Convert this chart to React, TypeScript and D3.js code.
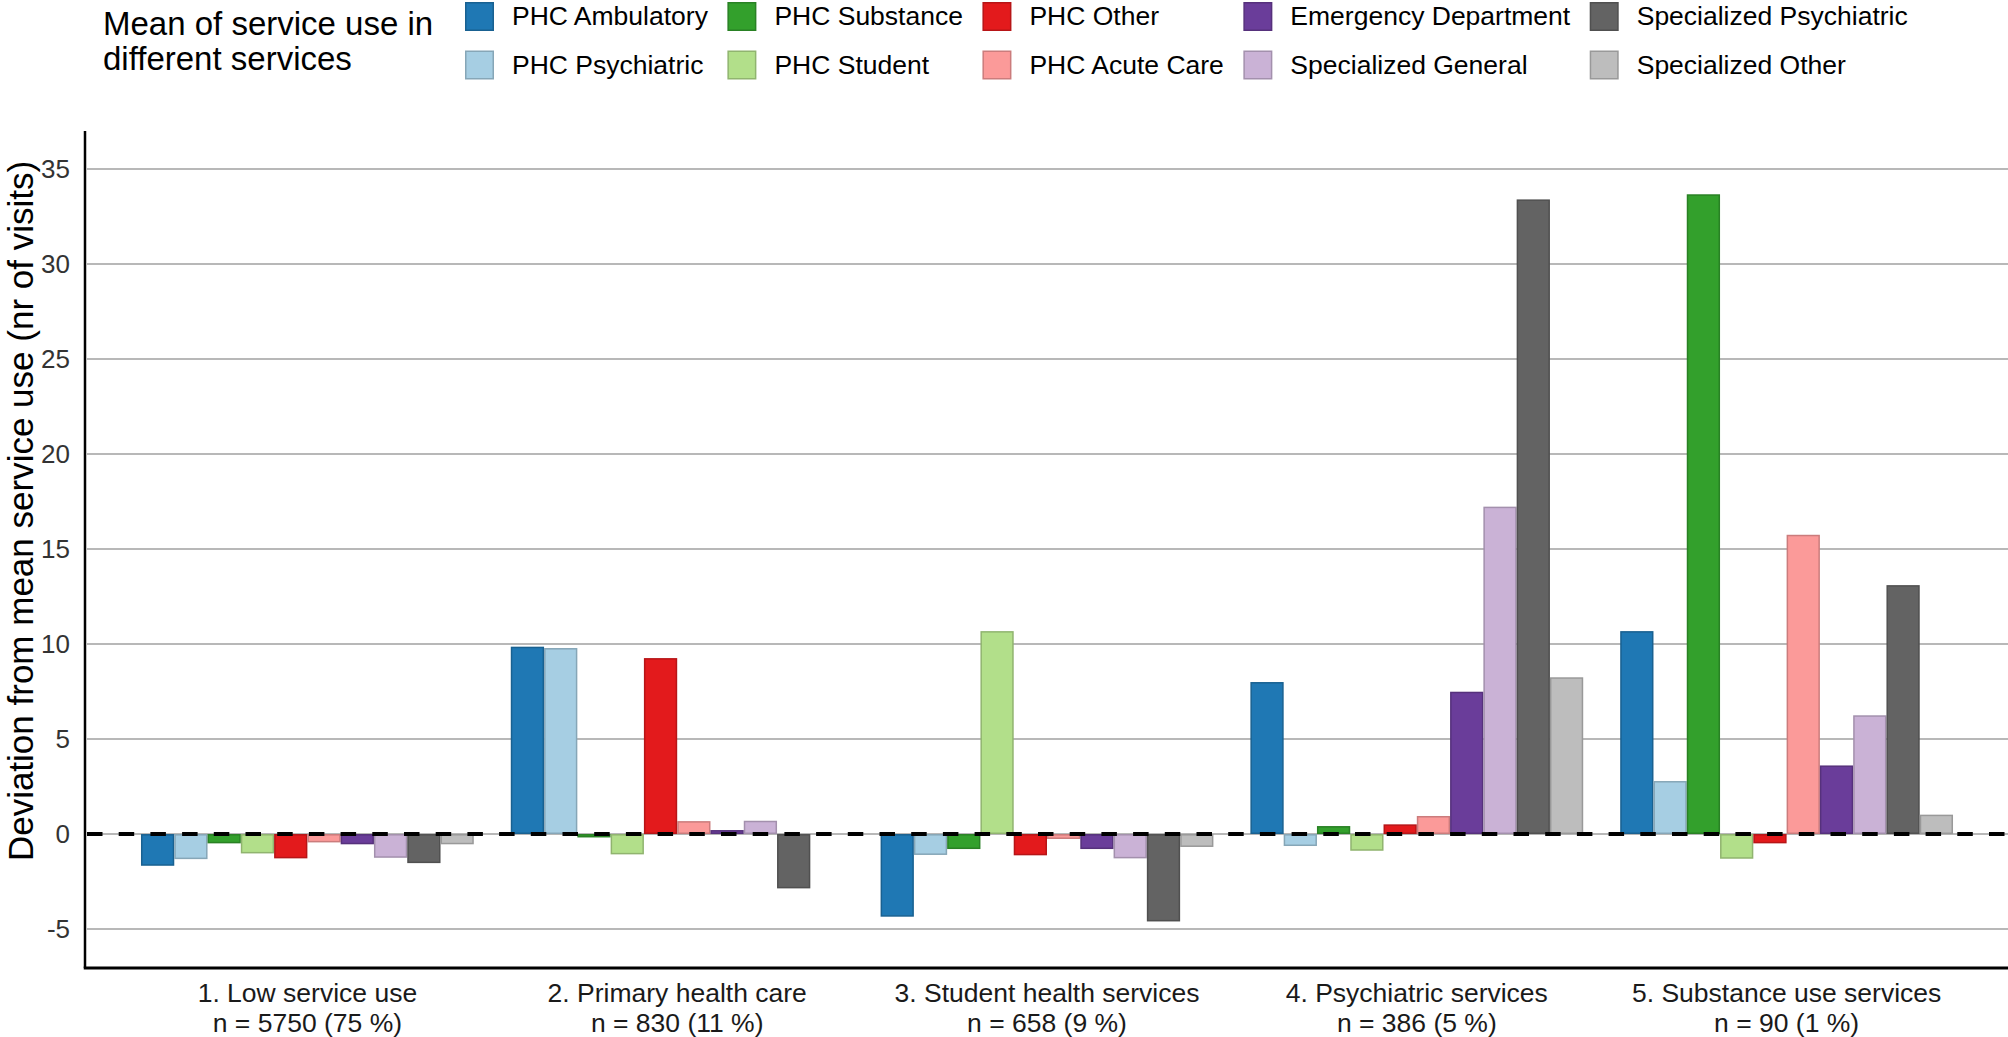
import * as d3 from 'd3';
import React, { useEffect, useRef } from 'react';

// Profiles (x-axis groups), two lines each
const groups = [
  '1. Low service use',
  '2. Primary health care',
  '3. Student health services',
  '4. Psychiatric services',
  '5. Substance use services',
];
const groupSizes = [
  'n = 5750 (75 %)',
  'n = 830 (11 %)',
  'n = 658 (9 %)',
  'n = 386 (5 %)',
  'n = 90 (1 %)',
];

// Services, in bar order
const services = [
  'PHC Ambulatory',
  'PHC Psychiatric',
  'PHC Substance',
  'PHC Student',
  'PHC Other',
  'PHC Acute Care',
  'Emergency Department',
  'Specialized General',
  'Specialized Psychiatric',
  'Specialized Other',
];
const serviceColors = [
  '#1f78b4', '#a6cee3', '#33a02c', '#b2df8a', '#e31a1c',
  '#fb9a99', '#6a3d9a', '#cab2d6', '#636363', '#bdbdbd',
];

// Deviation from mean service use, one row per group, one value per service
const lowUse = [-1.67, -1.32, -0.49, -1.02, -1.28, -0.44, -0.54, -1.25, -1.53, -0.54];
const primaryCare = [9.86, 9.79, -0.18, -1.07, 9.26, 0.68, 0.21, 0.7, -2.86, -0.05];
const studentHealth = [-4.35, -1.1, -0.79, 10.68, -1.12, -0.26, -0.79, -1.28, -4.6, -0.68];
const psychiatric = [8.0, -0.63, 0.42, -0.88, 0.51, 0.95, 7.49, 17.23, 33.4, 8.25];
const substanceUse = [10.68, 2.79, 33.67, -1.3, -0.49, 15.75, 3.61, 6.25, 13.1, 1.02];
const values = [lowUse, primaryCare, studentHealth, psychiatric, substanceUse];

const yTicks = [-5, 0, 5, 10, 15, 20, 25, 30, 35];

const W = 2008;
const H = 1037;
const FONT = "'Liberation Sans', Arial, sans-serif";

export default function App() {
  const ref = useRef<SVGSVGElement | null>(null);

  useEffect(() => {
    if (!ref.current) return;
    const svg = d3.select(ref.current);
    svg.selectAll('*').remove();

    const axisX = 85;
    const x0 = d3.scaleBand<string>().domain(groups).range([104, 1990]).paddingInner(0.1).paddingOuter(0.1);
    const x1 = d3.scaleBand<string>().domain(services).range([0, x0.bandwidth()]);
    const y = d3.scaleLinear().domain([-7.05, 37]).range([968, 131]);
    const color = d3.scaleOrdinal<string, string>().domain(services).range(serviceColors);

    // grid
    svg.append('g')
      .selectAll('line')
      .data(yTicks)
      .enter()
      .append('line')
      .attr('x1', axisX + 2)
      .attr('x2', W)
      .attr('y1', (d) => y(d))
      .attr('y2', (d) => y(d))
      .attr('stroke', '#a0a0a0')
      .attr('stroke-width', 1.5);

    // tick labels
    svg.append('g')
      .selectAll('text')
      .data(yTicks)
      .enter()
      .append('text')
      .attr('x', 70)
      .attr('y', (d) => y(d))
      .attr('dy', '0.36em')
      .attr('text-anchor', 'end')
      .style('font-family', FONT)
      .style('font-size', '26px')
      .style('fill', '#333')
      .text((d) => d);

    // bars
    const rows = groups.map((g, i) => ({ group: g, vals: values[i] }));
    svg.append('g')
      .selectAll('g')
      .data(rows)
      .enter()
      .append('g')
      .attr('transform', (d) => `translate(${x0(d.group)},0)`)
      .selectAll('rect')
      .data((d) => d.vals.map((v, j) => ({ key: services[j], v })))
      .enter()
      .append('rect')
      .attr('x', (d) => (x1(d.key) ?? 0) + 0.75)
      .attr('y', (d) => Math.min(y(d.v), y(0)) + 0.75)
      .attr('width', x1.bandwidth() - 1.5)
      .attr('height', (d) => Math.max(0, Math.abs(y(d.v) - y(0)) - 1.5))
      .attr('fill', (d) => color(d.key))
      .attr('stroke', (d) => d3.color(color(d.key))!.darker(0.6).formatHex())
      .attr('stroke-width', 1.5);

    // dashed zero line
    svg.append('line')
      .attr('x1', axisX + 2)
      .attr('x2', W)
      .attr('y1', y(0))
      .attr('y2', y(0))
      .attr('stroke', '#000')
      .attr('stroke-width', 4)
      .attr('stroke-dasharray', '15.5,16.2');

    // axes lines
    svg.append('line')
      .attr('x1', axisX).attr('x2', axisX)
      .attr('y1', y(37)).attr('y2', y(-7.05))
      .attr('stroke', '#000').attr('stroke-width', 2.5);
    svg.append('line')
      .attr('x1', axisX - 1.25).attr('x2', W)
      .attr('y1', y(-7.05)).attr('y2', y(-7.05))
      .attr('stroke', '#000').attr('stroke-width', 3);

    // x labels
    const xl = svg.append('g')
      .selectAll('text')
      .data(groups)
      .enter()
      .append('text')
      .attr('text-anchor', 'middle')
      .style('font-family', FONT)
      .style('font-size', '26.5px')
      .style('fill', '#1a1a1a');
    xl.append('tspan')
      .attr('x', (d) => (x0(d) ?? 0) + x0.bandwidth() / 2)
      .attr('y', 1001.5)
      .text((d) => d);
    xl.append('tspan')
      .attr('x', (d) => (x0(d) ?? 0) + x0.bandwidth() / 2)
      .attr('y', 1031.5)
      .text((d, i) => groupSizes[i]);

    // y title
    svg.append('text')
      .attr('transform', 'translate(32.5,511) rotate(-90)')
      .attr('text-anchor', 'middle')
      .style('font-family', FONT)
      .style('font-size', '35px')
      .style('fill', '#000')
      .text('Deviation from mean service use (nr of visits)');

    // legend title
    const lt = svg.append('text')
      .style('font-family', FONT)
      .style('font-size', '33px')
      .style('fill', '#000');
    lt.append('tspan').attr('x', 103).attr('y', 35).text('Mean of service use in');
    lt.append('tspan').attr('x', 103).attr('y', 70).text('different services');

    // legend, two rows, column-major
    const legend = svg.append('g');
    let colX = 465;
    for (let c = 0; c < services.length / 2; c++) {
      let maxW = 0;
      for (let r = 0; r < 2; r++) {
        const key = services[c * 2 + r];
        const top = r === 0 ? 2 : 50.5;
        legend.append('rect')
          .attr('x', colX + 0.75)
          .attr('y', top + 0.75)
          .attr('width', 27.5)
          .attr('height', 27.5)
          .attr('fill', color(key))
          .attr('stroke', d3.color(color(key))!.darker(0.6).formatHex())
          .attr('stroke-width', 1.5);
        const t = legend.append('text')
          .attr('x', colX + 47)
          .attr('y', r === 0 ? 25 : 73.5)
          .style('font-family', FONT)
          .style('font-size', '26.5px')
          .style('fill', '#000')
          .text(key);
        maxW = Math.max(maxW, (t.node() as SVGTextElement).getComputedTextLength());
      }
      colX += 47 + maxW + 19.5;
    }
  }, []);

  return (
    <svg
      ref={ref}
      width={W}
      height={H}
      style={{ position: 'absolute', left: 0, top: 0, display: 'block', background: '#fff' }}
    />
  );
}
